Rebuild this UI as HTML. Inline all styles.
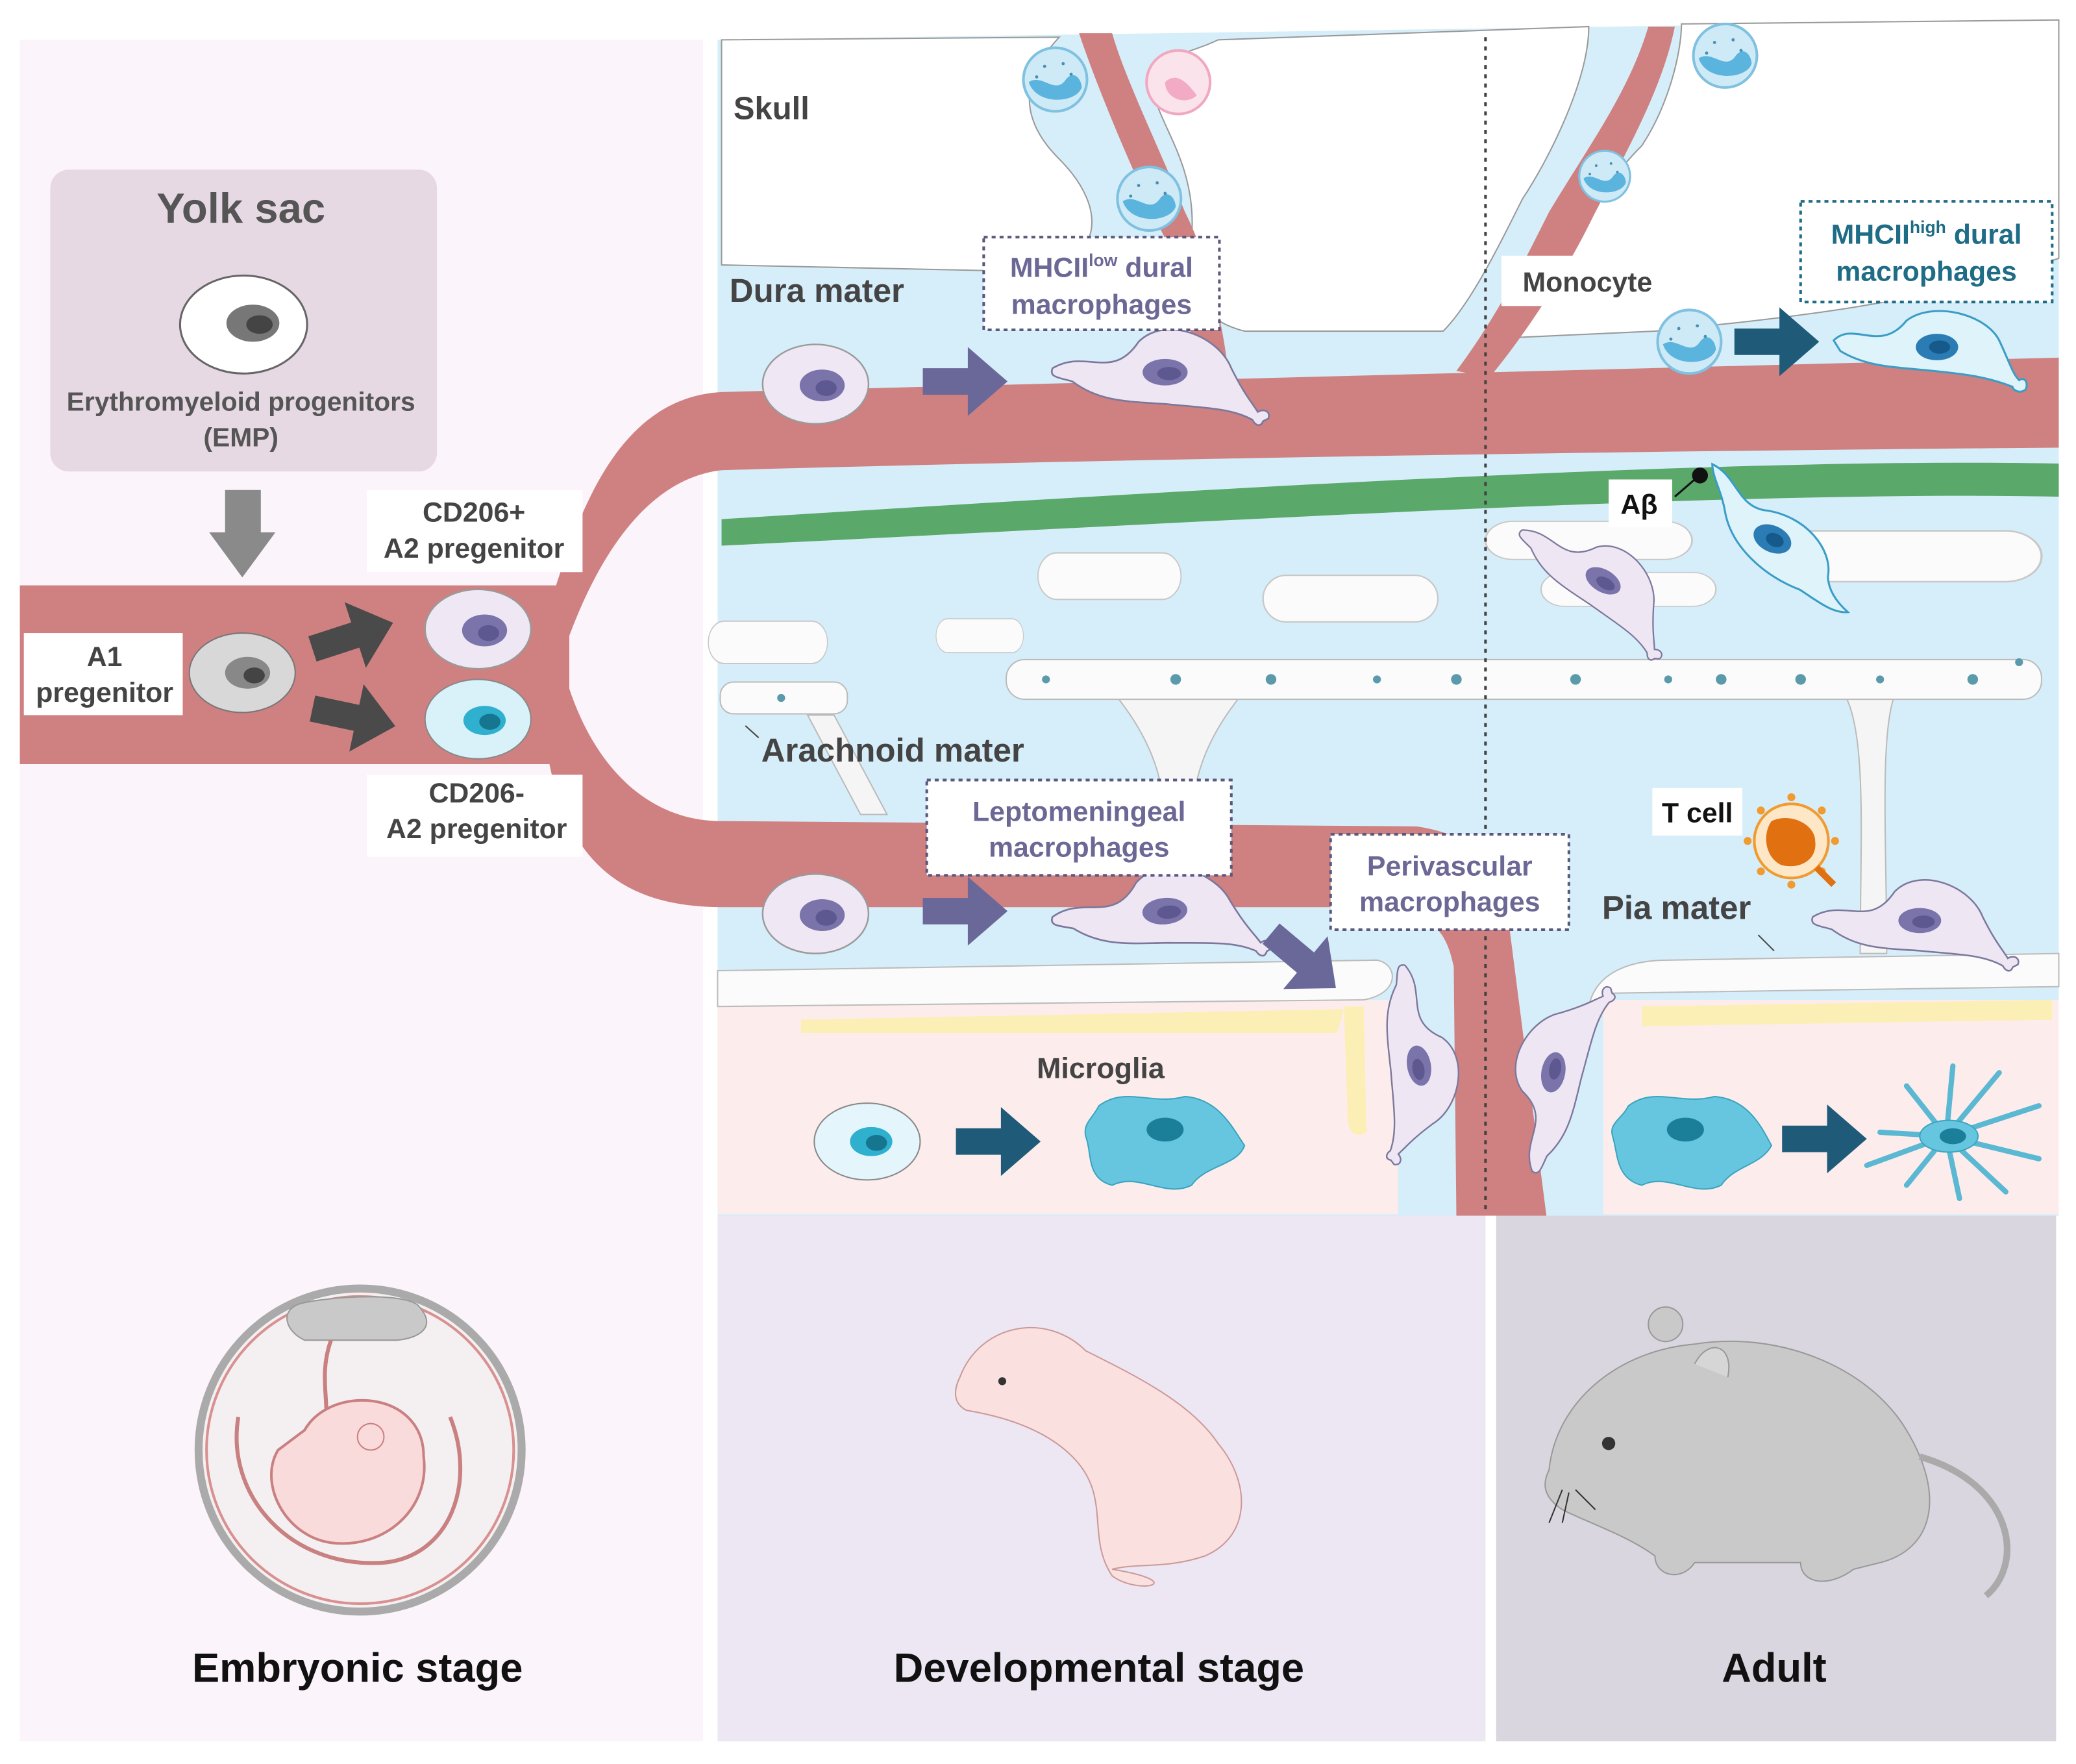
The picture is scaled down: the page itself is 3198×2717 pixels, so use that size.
<!DOCTYPE html>
<html><head><meta charset="utf-8"><style>
html,body{margin:0;padding:0;background:#fff}
svg{display:block}
text{font-family:"Liberation Sans",sans-serif;font-weight:bold}
</style></head><body>
<svg width="3198" height="2717" viewBox="0 0 1568 1332" xmlns="http://www.w3.org/2000/svg">
<defs>
<g id="rc"><ellipse cx="0" cy="0" rx="40" ry="30" fill="#efe7f4" stroke="#9a9a9a" stroke-width="1.2"/><ellipse cx="5" cy="1" rx="17" ry="12" fill="#7b74ab"/><ellipse cx="8" cy="3" rx="8" ry="6" fill="#5e5890"/></g>
<g id="mac"><path d="M-85,-5 C-60,-20 -40,5 -20,-25 C0,-45 40,-30 50,-5 C60,15 65,20 70,28 C75,25 80,28 78,33 L74,35 C72,40 68,38 66,34 C50,25 30,25 0,22 C-30,20 -50,20 -70,5 C-80,2 -88,2 -85,-5Z" fill="#efe6f4" stroke="#7c789c" stroke-width="1.3"/><ellipse cx="0" cy="-2" rx="17" ry="10" fill="#7b74ab"/><ellipse cx="3" cy="-1" rx="9" ry="5" fill="#5e5890"/></g>
<g id="pa"><path d="M0,-10 H34 V-26 L64,0 L34,26 V10 H0Z" fill="#6a6899"/></g>
<g id="ta"><path d="M0,-10 H34 V-26 L64,0 L34,26 V10 H0Z" fill="#1f5b79"/></g>
<g id="ga"><path d="M0,-10 H34 V-26 L64,0 L34,26 V10 H0Z" fill="#4a4a4a"/></g>
<g id="cloud"><rect x="-60" y="-16" width="120" height="32" rx="16" fill="#fbfbfb" stroke="#c8c8c8" stroke-width="1"/></g>
<g id="bub"><circle r="24" fill="#cfeaf7" stroke="#7fc1e0" stroke-width="2"/><path d="M-20,2 C-10,-5 0,12 8,0 C14,-8 20,0 20,6 C16,18 -14,20 -20,2Z" fill="#5bb4dd"/><circle cx="-8" cy="-10" r="1.2" fill="#4a8fb0"/><circle cx="6" cy="-12" r="1.2" fill="#4a8fb0"/><circle cx="12" cy="-4" r="1.2" fill="#4a8fb0"/><circle cx="-14" cy="-2" r="1.2" fill="#4a8fb0"/></g>
</defs>
<rect width="1568" height="1332" fill="#fff"/>
<rect x="15" y="30" width="516" height="1285" fill="#fbf4fb"/>
<rect x="542" y="918" width="580" height="397" fill="#ede6f3"/>
<rect x="1130" y="918" width="423" height="397" fill="#d9d6df"/>
<path d="M542,30 L1555,15 L1555,918 L542,918Z" fill="#d6eef9"/>
<!-- skull white -->
<path d="M545,30 L800,28 C770,60 770,90 800,120 C840,160 830,200 780,205 L545,200Z" fill="#fff" stroke="#999" stroke-width="1"/>
<path d="M920,30 L1200,20 C1200,60 1170,120 1150,150 C1130,190 1110,230 1090,250 L940,250 C900,240 895,210 900,180 C905,120 870,90 870,60 C880,40 900,40 920,30Z" fill="#fff" stroke="#999" stroke-width="1"/>
<path d="M1270,18 L1555,15 L1555,195 C1450,230 1350,240 1250,250 L1140,255 C1180,200 1200,150 1240,110 C1260,80 1270,40 1270,18Z" fill="#fff" stroke="#999" stroke-width="1"/>
<text x="554" y="90" font-size="24" fill="#444">Skull</text>
<rect x="542" y="755" width="1013" height="162" fill="#fcecec"/>
<rect x="1056" y="740" width="155" height="178" fill="#d6eef9"/>
<path d="M15,442 H420 C440,380 470,300 545,296 L1555,270 L1555,338 C1300,340 900,345 545,355 C500,360 460,400 430,480 L430,520 C450,580 490,620 545,620 L1070,624 C1110,630 1140,650 1140,700 L1168,918 L1100,918 L1098,730 C1090,690 1070,685 1000,685 L545,685 C470,685 430,650 415,577 L15,577Z" fill="#cf8080"/>
<path d="M815,25 C830,70 860,140 880,180 C900,210 900,250 900,300 L930,300 C925,250 915,200 895,160 C875,110 850,60 840,25Z" fill="#cf8080"/>
<path d="M1100,280 C1130,240 1150,200 1170,160 C1200,110 1230,70 1245,20 L1265,20 C1255,70 1225,120 1200,170 C1180,210 1150,255 1125,285Z" fill="#cf8080"/>
<path d="M545,392 C900,370 1300,345 1555,350 L1555,375 C1300,370 900,395 545,412Z" fill="#5aa86a"/>
<use href="#cloud" transform="translate(580,485) scale(0.75,1)"/>
<use href="#cloud" transform="translate(838,435) scale(0.9,1.1)"/>
<use href="#cloud" transform="translate(1020,452) scale(1.1,1.1)"/>
<use href="#cloud" transform="translate(740,480) scale(0.55,0.8)"/>
<use href="#cloud" transform="translate(1200,408) scale(1.3,0.9)"/>
<use href="#cloud" transform="translate(1440,420) scale(1.7,1.2)"/>
<use href="#cloud" transform="translate(1230,445) scale(1.1,0.8)"/>
<rect x="760" y="498" width="782" height="30" rx="14" fill="#fbfbfb" stroke="#bbb"/>
<rect x="544" y="515" width="96" height="24" rx="10" fill="#fbfbfb" stroke="#bbb"/>
<path d="M610,540 L650,615 L670,615 L630,540Z M845,528 C870,560 880,590 880,625 L900,625 C900,590 910,560 935,528Z M1395,528 C1410,560 1405,640 1405,720 L1425,720 C1425,640 1420,560 1430,528Z" fill="#f5f5f5" stroke="#bbb"/>
<g fill="#5a9aaa"><circle cx="790" cy="513" r="3"/><circle cx="888" cy="513" r="4"/><circle cx="960" cy="513" r="4"/><circle cx="1040" cy="513" r="3"/><circle cx="1100" cy="513" r="4"/><circle cx="1190" cy="513" r="4"/><circle cx="1260" cy="513" r="3"/><circle cx="1300" cy="513" r="4"/><circle cx="1360" cy="513" r="4"/><circle cx="1420" cy="513" r="3"/><circle cx="1490" cy="513" r="4"/><circle cx="1525" cy="500" r="3"/><circle cx="590" cy="527" r="3"/></g>
<text x="575" y="575" font-size="25" fill="#444">Arachnoid mater</text>
<line x1="563" y1="548" x2="573" y2="557" stroke="#444"/>
<path d="M542,733 L1040,725 C1056,728 1058,750 1030,755 L542,760Z" fill="#fbfbfb" stroke="#bbb"/>
<path d="M1200,760 C1205,735 1230,725 1260,725 L1555,720 L1555,745 L1215,750Z" fill="#fbfbfb" stroke="#bbb"/>
<path d="M605,770 L1015,762 L1010,780 L605,780Z M1240,760 L1550,755 L1550,770 L1240,775Z" fill="#fbefb6"/>
<path d="M1015,760 L1030,760 L1032,855 C1025,860 1018,855 1018,845Z" fill="#fbefb6"/>
<line x1="1122" y1="28" x2="1122" y2="915" stroke="#444" stroke-width="2" stroke-dasharray="3,4"/>
<use href="#bub" transform="translate(797,60)"/>
<g transform="translate(890,62)"><circle r="24" fill="#fbe3ec" stroke="#f0a8c0" stroke-width="2"/><path d="M-10,0 C0,-10 10,5 14,10 C5,18 -10,12 -10,0Z" fill="#f3aac4"/></g>
<use href="#bub" transform="translate(868,150)"/>
<use href="#bub" transform="translate(1303,42)"/>
<use href="#bub" transform="translate(1212,133) scale(0.8)"/>
<use href="#bub" transform="translate(1276,258)"/>
<use href="#rc" transform="translate(616,290)"/>
<use href="#pa" transform="translate(697,288)"/>
<use href="#mac" transform="translate(880,283)"/>
<use href="#ta" transform="translate(1310,258) scale(1.0)"/>
<g transform="translate(1460,262)"><path d="M-75,-5 C-60,-20 -40,5 -20,-20 C0,-35 40,-25 50,-5 C58,12 60,20 65,25 C70,22 72,28 70,32 C65,36 60,32 60,30 C40,22 20,20 0,18 C-30,15 -50,15 -70,3Z" fill="#dff3fb" stroke="#3a9dc6" stroke-width="1.5"/><ellipse cx="3" cy="0" rx="16" ry="10" fill="#2b7bb5"/><ellipse cx="5" cy="0" rx="8" ry="5" fill="#155a8a"/></g>
<g transform="translate(1335,403) rotate(25)"><path d="M-60,-30 C-40,-30 -30,-10 -10,-15 C20,-25 50,-10 55,10 C60,20 70,25 80,28 C70,34 55,30 40,28 C10,30 -20,20 -35,0 C-45,-15 -55,-20 -60,-30Z" fill="#dff3fb" stroke="#3a9dc6" stroke-width="1.5"/><ellipse cx="5" cy="2" rx="15" ry="10" fill="#2b7bb5"/><ellipse cx="7" cy="2" rx="7" ry="5" fill="#155a8a"/></g>
<circle cx="1284" cy="359" r="6" fill="#111"/>
<line x1="1265" y1="375" x2="1280" y2="362" stroke="#111" stroke-width="1.5"/>
<rect x="1215" y="362" width="48" height="36" fill="#fff"/>
<text x="1224" y="388" font-size="21" fill="#111" font-weight="normal">Aβ</text>
<g transform="translate(1210,440) rotate(30) scale(0.85)"><use href="#mac"/></g>
<use href="#rc" transform="translate(616,690)"/>
<use href="#pa" transform="translate(697,688)"/>
<use href="#mac" transform="translate(880,690) rotate(-5)"/>
<g transform="translate(960,705) rotate(40)"><use href="#pa"/></g>
<g transform="translate(1070,805) rotate(80) scale(0.9)"><use href="#mac"/></g>
<g transform="translate(1175,810) rotate(-80) scale(0.9)"><use href="#mac"/></g>
<g transform="translate(1450,697) scale(0.95)"><use href="#mac"/></g>
<g transform="translate(1353,635)"><circle r="28" fill="#fde7c6" stroke="#f09a30" stroke-width="2"/><path d="M-15,-15 C0,-22 18,-12 18,0 C20,15 5,22 -8,18 C-20,12 -22,-5 -15,-15Z" fill="#e07010"/><g fill="#f09a30"><circle cx="0" cy="-33" r="3"/><circle cx="0" cy="33" r="3"/><circle cx="-33" cy="0" r="3"/><circle cx="33" cy="0" r="3"/><circle cx="23" cy="23" r="3"/><circle cx="-23" cy="-23" r="3"/><circle cx="23" cy="-23" r="3"/><circle cx="-23" cy="23" r="3"/></g></g>
<path d="M1372,655 L1385,668" stroke="#e07010" stroke-width="5"/>
<ellipse cx="655" cy="862" rx="40" ry="29" fill="#e4f5fb" stroke="#888"/><ellipse cx="658" cy="862" rx="16" ry="11" fill="#2fb0cf"/><ellipse cx="662" cy="863" rx="8" ry="6" fill="#16758f"/>
<use href="#ta" transform="translate(722,862)"/>
<path d="M830,835 C850,820 870,835 895,828 C920,830 930,850 940,865 C935,880 910,880 900,895 C880,905 860,885 840,895 C820,890 825,870 820,858 C818,848 825,845 830,835Z" fill="#66c6df" stroke="#3aa4c0"/><ellipse cx="880" cy="853" rx="14" ry="9" fill="#1c7f9a"/>
<path d="M1230,835 C1250,820 1270,835 1295,828 C1320,830 1330,850 1338,865 C1330,880 1310,880 1300,895 C1280,905 1260,885 1240,895 C1220,890 1222,870 1218,858 C1215,848 1225,845 1230,835Z" fill="#66c6df" stroke="#3aa4c0"/><ellipse cx="1273" cy="853" rx="14" ry="9" fill="#1c7f9a"/>
<use href="#ta" transform="translate(1346,860)"/>
<g stroke="#5ab8d2" stroke-width="4" fill="none" stroke-linecap="round"><path d="M1470,858 L1420,855 M1470,858 L1410,880 M1470,858 L1440,820 M1470,858 L1475,805 M1470,858 L1510,810 M1470,858 L1540,835 M1470,858 L1540,875 M1470,858 L1515,900 M1470,858 L1480,905 M1470,858 L1440,895"/></g>
<ellipse cx="1472" cy="858" rx="22" ry="12" fill="#66c6df" stroke="#3aa4c0"/><ellipse cx="1475" cy="858" rx="10" ry="6" fill="#1c7f9a"/>
<text x="783" y="814" font-size="22" fill="#444">Microglia</text>
<text x="551" y="228" font-size="25" fill="#444">Dura mater</text>
<rect x="743" y="179" width="178" height="70" fill="#fff" stroke="#595980" stroke-width="2" stroke-dasharray="3,3"/>
<text x="832" y="209" font-size="21" fill="#6b6896" text-anchor="middle">MHCII<tspan font-size="13" dy="-8">low</tspan><tspan dy="8"> dural</tspan></text>
<text x="832" y="237" font-size="21" fill="#6b6896" text-anchor="middle">macrophages</text>
<rect x="1134" y="193" width="130" height="38" fill="#fff"/>
<text x="1199" y="220" font-size="21" fill="#444" text-anchor="middle">Monocyte</text>
<rect x="1360" y="152" width="190" height="76" fill="#fff" stroke="#1f6c86" stroke-width="2" stroke-dasharray="3,3"/>
<text x="1455" y="184" font-size="21" fill="#1f6c86" text-anchor="middle">MHCII<tspan font-size="13" dy="-8">high</tspan><tspan dy="8"> dural</tspan></text>
<text x="1455" y="212" font-size="21" fill="#1f6c86" text-anchor="middle">macrophages</text>
<rect x="700" y="589" width="230" height="72" fill="#fff" stroke="#595980" stroke-width="2" stroke-dasharray="3,3"/>
<text x="815" y="620" font-size="21" fill="#6b6896" text-anchor="middle">Leptomeningeal</text>
<text x="815" y="647" font-size="21" fill="#6b6896" text-anchor="middle">macrophages</text>
<rect x="1005" y="630" width="180" height="72" fill="#fff" stroke="#595980" stroke-width="2" stroke-dasharray="3,3"/>
<text x="1095" y="661" font-size="21" fill="#6b6896" text-anchor="middle">Perivascular</text>
<text x="1095" y="688" font-size="21" fill="#6b6896" text-anchor="middle">macrophages</text>
<rect x="1248" y="595" width="68" height="36" fill="#fff"/>
<text x="1282" y="621" font-size="21" fill="#111" text-anchor="middle" font-weight="normal">T cell</text>
<text x="1210" y="694" font-size="25" fill="#444">Pia mater</text>
<line x1="1328" y1="706" x2="1340" y2="718" stroke="#444"/>
<rect x="38" y="128" width="292" height="228" rx="14" fill="#e6d9e3"/>
<text x="182" y="168" font-size="32" fill="#555" text-anchor="middle">Yolk sac</text>
<ellipse cx="184" cy="245" rx="48" ry="37" fill="#fff" stroke="#666" stroke-width="1.5"/><ellipse cx="191" cy="244" rx="20" ry="14" fill="#777"/><ellipse cx="196" cy="245" rx="10" ry="7" fill="#444"/>
<text x="182" y="310" font-size="20" fill="#555" text-anchor="middle" font-weight="normal">Erythromyeloid progenitors</text>
<text x="182" y="337" font-size="20" fill="#555" text-anchor="middle" font-weight="normal">(EMP)</text>
<path d="M170,370 H197 V402 H208 L183,436 L158,402 H170Z" fill="#8a8a8a"/>
<rect x="18" y="478" width="120" height="62" fill="#fff"/>
<text x="79" y="503" font-size="21" fill="#444" text-anchor="middle">A1</text>
<text x="79" y="530" font-size="21" fill="#444" text-anchor="middle">pregenitor</text>
<ellipse cx="183" cy="508" rx="40" ry="30" fill="#d8d8d8" stroke="#777"/><ellipse cx="187" cy="508" rx="17" ry="12" fill="#888"/><ellipse cx="192" cy="510" rx="8" ry="6" fill="#444"/>
<g transform="translate(236,490) rotate(-18)"><use href="#ga"/></g>
<g transform="translate(236,535) rotate(12)"><use href="#ga"/></g>
<use href="#rc" transform="translate(361,475)"/>
<g transform="translate(361,543)"><ellipse rx="40" ry="30" fill="#d9f2fa" stroke="#888"/><ellipse cx="5" cy="1" rx="16" ry="11" fill="#2fb0cf"/><ellipse cx="9" cy="2" rx="8" ry="6" fill="#16758f"/></g>
<rect x="277" y="370" width="163" height="62" fill="#fff"/>
<text x="358" y="394" font-size="21" fill="#444" text-anchor="middle">CD206+</text>
<text x="358" y="421" font-size="21" fill="#444" text-anchor="middle">A2 pregenitor</text>
<rect x="277" y="585" width="163" height="62" fill="#fff"/>
<text x="360" y="606" font-size="21" fill="#444" text-anchor="middle">CD206-</text>
<text x="360" y="633" font-size="21" fill="#444" text-anchor="middle">A2 pregenitor</text>
<circle cx="272" cy="1095" r="122" fill="#f4f0f2" stroke="#aaa" stroke-width="6"/>
<circle cx="272" cy="1095" r="116" fill="none" stroke="#d89090" stroke-width="2"/>
<path d="M225,985 C240,980 300,975 315,985 C330,1000 320,1010 300,1012 L230,1012 C215,1005 212,990 225,985Z" fill="#c9c9c9" stroke="#999"/>
<path d="M250,1012 C240,1040 250,1060 245,1080" fill="none" stroke="#c98080" stroke-width="3"/>
<path d="M230,1080 C250,1045 320,1050 320,1100 C325,1140 290,1170 250,1165 C215,1160 195,1120 210,1095Z" fill="#fadbdc" stroke="#c98080" stroke-width="2"/>
<circle cx="280" cy="1085" r="10" fill="#fadbdc" stroke="#c98080"/>
<path d="M180,1070 C170,1130 220,1185 290,1180 C340,1175 360,1120 340,1070" fill="none" stroke="#c98080" stroke-width="3"/>
<text x="270" y="1270" font-size="31" fill="#111" text-anchor="middle">Embryonic stage</text>
<path d="M725,1040 C740,1000 790,990 820,1020 C860,1040 900,1060 920,1090 C945,1120 945,1160 910,1175 C880,1185 860,1180 840,1185 C900,1195 860,1205 840,1190 C820,1160 840,1130 810,1100 C790,1080 760,1070 730,1065 C720,1060 720,1050 725,1040Z" fill="#fbe0e0" stroke="#c99"/>
<circle cx="757" cy="1043" r="3" fill="#333"/>
<text x="830" y="1270" font-size="31" fill="#111" text-anchor="middle">Developmental stage</text>
<path d="M1170,1110 C1175,1060 1220,1020 1280,1015 C1340,1005 1410,1030 1440,1080 C1470,1130 1460,1170 1420,1180 L1400,1185 C1380,1200 1360,1195 1360,1180 L1280,1180 C1270,1195 1250,1190 1250,1175 C1230,1160 1200,1150 1180,1140 C1165,1130 1165,1120 1170,1110Z" fill="#c9c9c9" stroke="#999"/>
<circle cx="1258" cy="1000" r="13" fill="#c9c9c9" stroke="#999"/>
<path d="M1280,1030 C1290,1010 1310,1015 1305,1040" fill="#d6d6d6" stroke="#999"/>
<path d="M1450,1100 C1520,1120 1530,1180 1500,1205" fill="none" stroke="#aaa" stroke-width="5"/>
<circle cx="1215" cy="1090" r="5" fill="#333"/>
<path d="M1180,1125 L1170,1150 M1185,1127 L1180,1150 M1190,1125 L1205,1140" stroke="#333"/>
<text x="1340" y="1270" font-size="31" fill="#111" text-anchor="middle">Adult</text>
</svg>
</body></html>
